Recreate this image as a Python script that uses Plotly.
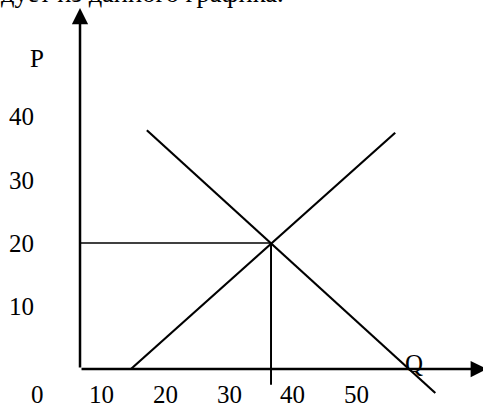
import plotly.graph_objects as go

# ---- data (economic units: Q on horizontal, P on vertical) ----
q_tick_values = [0, 10, 20, 30, 40, 50]
q_tick_labels = ["0", "10", "20", "30", "40", "50"]
p_tick_values = [40, 30, 20, 10]
p_tick_labels = ["40", "30", "20", "10"]

supply_q = [8.0, 49.5]
supply_p = [0.0, 37.5]
demand_q = [10.5, 55.8]
demand_p = [37.9, -3.8]

eq_q = 30
eq_p = 20
vline_bottom_p = -2.5

q_axis_end = 63.9
p_axis_end = 57.3

caption = "дует из данного графика."

# ---- styling / layout constants ----
FONT = "Liberation Serif"
FS = 25
X_RANGE = [-12.565, 63.29]
Y_RANGE = [-5.873, 58.57]
Q_LABEL_SHIFT = -6.6     # printed Q labels sit left of their true position
Q_LABEL_P = -4.1
P_LABEL_Q = -6.9

fig = go.Figure()

# supply and demand
fig.add_trace(go.Scatter(x=supply_q, y=supply_p, mode="lines",
                         line=dict(color="black", width=2.2), hoverinfo="skip"))
fig.add_trace(go.Scatter(x=demand_q, y=demand_p, mode="lines",
                         line=dict(color="black", width=2.2), hoverinfo="skip"))
# equilibrium guide lines
fig.add_trace(go.Scatter(x=[0, eq_q], y=[eq_p, eq_p], mode="lines",
                         line=dict(color="black", width=1.5), hoverinfo="skip"))
fig.add_trace(go.Scatter(x=[eq_q, eq_q], y=[eq_p, vline_bottom_p], mode="lines",
                         line=dict(color="black", width=2), hoverinfo="skip"))

annotations = []
# axes with arrowheads
annotations.append(dict(x=0, y=p_axis_end, ax=0, ay=0, xref="x", yref="y",
                        axref="x", ayref="y", text="", showarrow=True,
                        arrowhead=2, arrowwidth=2.5, arrowsize=1.3,
                        arrowcolor="black", standoff=0, startstandoff=0))
annotations.append(dict(x=q_axis_end, y=0, ax=0, ay=0, xref="x", yref="y",
                        axref="x", ayref="y", text="", showarrow=True,
                        arrowhead=2, arrowwidth=2.5, arrowsize=1.3,
                        arrowcolor="black", standoff=0, startstandoff=0))

font = dict(family=FONT, size=FS, color="black")
for v, t in zip(q_tick_values, q_tick_labels):
    annotations.append(dict(x=v + Q_LABEL_SHIFT, y=Q_LABEL_P, xref="x", yref="y",
                            text=t, showarrow=False, font=font,
                            xanchor="center", yanchor="middle"))
for v, t in zip(p_tick_values, p_tick_labels):
    annotations.append(dict(x=P_LABEL_Q, y=v, xref="x", yref="y",
                            text=t, showarrow=False, font=font,
                            xanchor="right", yanchor="middle"))
annotations.append(dict(x=-6.75, y=49.3, xref="x", yref="y", text="P",
                        showarrow=False, font=font, xanchor="center", yanchor="middle"))
annotations.append(dict(x=52.5, y=0.8, xref="x", yref="y", text="Q",
                        showarrow=False, font=font, xanchor="center", yanchor="middle"))
annotations.append(dict(x=-0.002, y=1.018, xref="paper", yref="paper", text=caption,
                        showarrow=False, font=dict(family=FONT, size=26.5, color="black"),
                        xanchor="left", yanchor="middle"))

fig.update_layout(
    width=483, height=406,
    margin=dict(l=0, r=0, t=0, b=0),
    paper_bgcolor="white", plot_bgcolor="white",
    showlegend=False,
    xaxis=dict(range=X_RANGE, visible=False, fixedrange=True),
    yaxis=dict(range=Y_RANGE, visible=False, fixedrange=True),
    annotations=annotations,
)

fig.write_html("out.html", config=dict(displayModeBar=False),
               post_script="document.body.style.margin='0';document.body.style.overflow='hidden';")
